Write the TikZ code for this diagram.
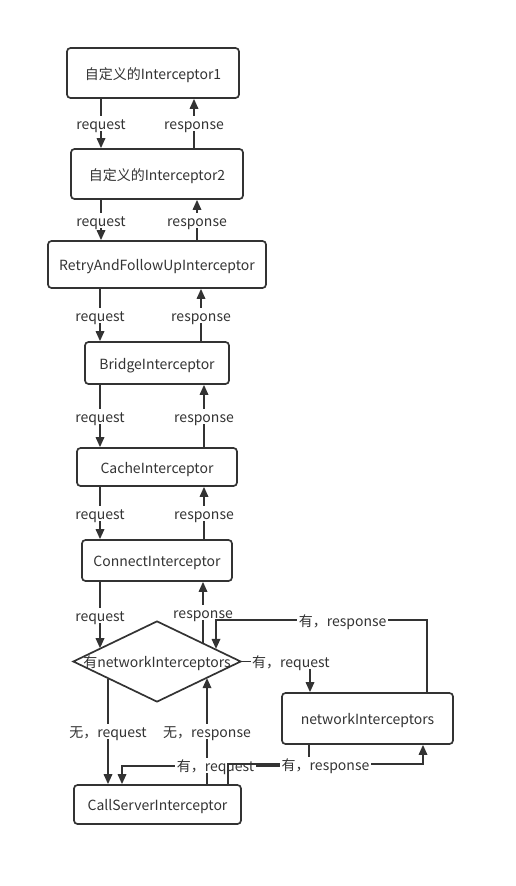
\documentclass[tikz,border=0pt]{standalone}
\usepackage{fontspec}
\setmainfont{Noto Sans CJK SC}
\usepackage{xcolor}
\usepackage{tikz}
\usetikzlibrary{arrows.meta,shapes.geometric}
\definecolor{ln}{HTML}{333333}

\begin{document}
\begin{tikzpicture}[x=1pt,y=-1pt,
  every node/.style={font=\fontsize{14}{16}\selectfont,text=ln,text height=12pt,text depth=0pt},
  bx/.style={draw=ln,line width=1.7pt,rounded corners=3.5pt,inner sep=0pt},
  dm/.style={draw=ln,line width=1.7pt,diamond,inner sep=0pt,minimum width=168pt,minimum height=81pt},
  lb/.style={fill=white,inner sep=1.5pt},
  ar/.style={draw=ln,line width=1.7pt,-{Triangle[length=10pt,width=8.5pt]}}
]
\useasboundingbox (0,0) rectangle (515,886);
\node[bx,minimum width=172pt,minimum height=50pt] (b1) at (153,73) {自定义的Interceptor1};
\node[bx,minimum width=172pt,minimum height=50pt] (b2) at (157,174) {自定义的Interceptor2};
\node[bx,minimum width=218pt,minimum height=47pt] (b3) at (157,264.5) {RetryAndFollowUpInterceptor};
\node[bx,minimum width=144pt,minimum height=42pt] (b4) at (157,363) {BridgeInterceptor};
\node[bx,minimum width=160pt,minimum height=38pt] (b5) at (157,467) {CacheInterceptor};
\node[bx,minimum width=150pt,minimum height=41pt] (b6) at (157,560.5) {ConnectInterceptor};
\node[dm] (q) at (157,661.5) {};
\node (qt) at (157,661.5) {有networkInterceptors};
\node[bx,minimum width=171pt,minimum height=51pt] (nw) at (367.5,718.5) {networkInterceptors};
\node[bx,minimum width=167pt,minimum height=39pt] (cs) at (157.5,804.5) {CallServerInterceptor};
% chain of interceptors
\foreach \a/\b/\xq/\xs in {b1/b2/101/194,b2/b3/101/197,b3/b4/100/201,b4/b5/100/204,b5/b6/100/204} {
  \draw[ar] (\a.south -| \xq,0) -- node[lb]{request} (\b.north -| \xq,0);
  \draw[ar] (\b.north -| \xs,0) -- node[lb]{response} (\a.south -| \xs,0);
}
\draw[ar] (b6.south -| 100,0) -- node[lb]{request} (q.167 -| 100,0);
\draw[ar] (q.22 -| 203,0) -- node[lb]{response} (b6.south -| 203,0);
% no network interceptors
\draw[ar] (q.199 -| 108,0) -- node[lb]{无，request} (cs.north -| 108,0);
\draw[ar] (cs.north -| 207,0) -- node[lb]{无，response} (q.342 -| 207,0);
% with network interceptors
\draw[ar] (q.east) -| node[lb,pos=0.36]{有，request} (nw.north -| 310,0);
\draw[ar] (nw.north -| 427,0) -- ++(0,-72) -| node[lb,pos=0.2]{有，response} (q.12 -| 216,0);
\draw[ar] (nw.south -| 309,0) -- ++(0,21) -| node[lb,pos=0.25]{有，request} (cs.north -| 122,0);
\draw[ar] (cs.north -| 228,0) -- ++(0,-20) -| node[lb,pos=0.25]{有，response} (nw.south -| 423,0);
\end{tikzpicture}
\end{document}
